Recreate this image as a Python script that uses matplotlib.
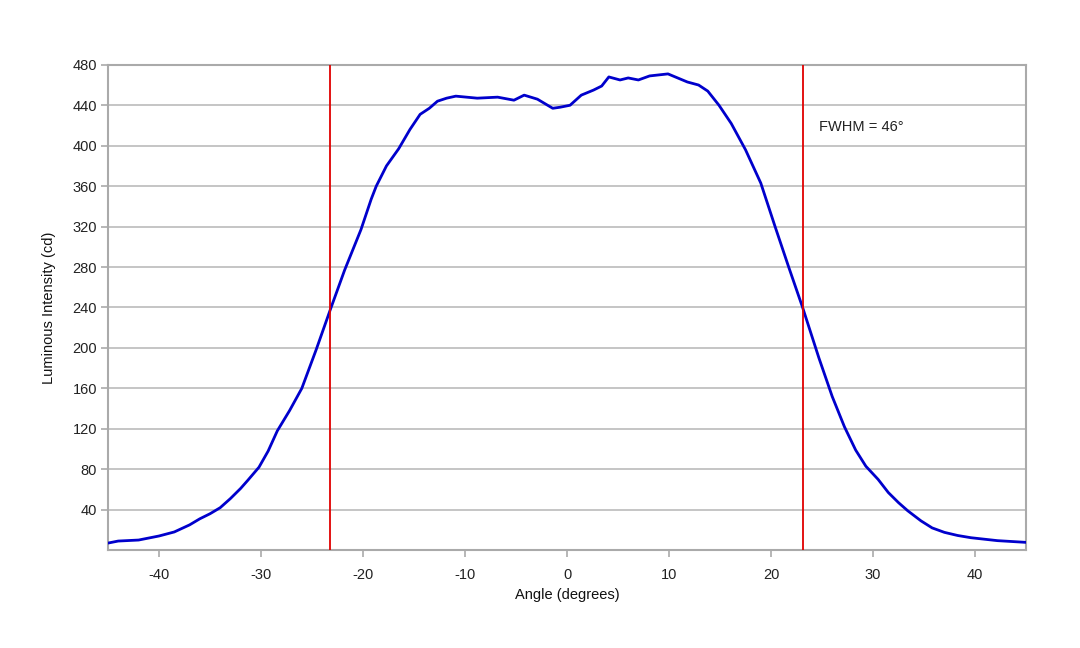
import matplotlib
matplotlib.use("Agg")
import matplotlib.pyplot as plt

# ==============================
# DATA
# ==============================

angle = [-45, -44, -42, -40, -38.5, -37, -36, -35, -34, -33, -32, -31.3, -30.2,
         -29.3, -28.4, -27.2, -26.0, -24.6, -23.2, -21.8, -20.2, -19.2, -18.7,
         -17.7, -16.5, -15.4, -14.4, -13.5, -12.7, -11.8, -10.9, -8.8, -6.8,
         -5.2, -4.2, -2.9, -1.4, -0.7, 0.3, 1.4, 2.6, 3.4, 4.1, 5.2, 6.0, 7.0,
         8.1, 9.9, 11.8, 12.9, 13.8, 14.9, 16.1, 17.5, 19.0, 20.4, 21.7, 23.1,
         24.7, 26.0, 27.2, 28.3, 29.3, 30.5, 31.5, 32.5, 33.4, 34.7, 35.8,
         37.0, 38.3, 39.6, 42.2, 45]
intensity = [7, 9, 10, 14, 18, 25, 31, 36, 42, 51, 61, 69, 82,
             98, 118, 138, 160, 198, 238, 277, 317, 347, 360,
             380, 397, 416, 431, 437, 444, 447, 449, 447, 448,
             445, 450, 446, 437, 438, 440, 450, 455, 459, 468, 465, 467, 465,
             469, 471, 463, 460, 454, 440, 422, 396, 363, 320, 281, 240,
             190, 152, 122, 99, 83, 70, 57, 47, 39, 29, 22,
             17.6, 14.5, 12.3, 9.4, 7.7]

fwhm_edges = [-23.2, 23.1]
fwhm_text = "FWHM = 46°"
y_ticks = list(range(40, 481, 40))
x_ticks = list(range(-40, 41, 10))

# ==============================
# PLOT
# ==============================

plt.rcParams["font.family"] = ["Liberation Sans", "DejaVu Sans"]
plt.rcParams["axes.unicode_minus"] = False

fig = plt.figure(figsize=(10.8, 6.48), dpi=100)
ax = fig.add_axes([0.1, 0.151, 0.85, 0.749])

ax.plot(angle, intensity, color="#0000cc", linewidth=2.0, zorder=3,
        solid_joinstyle="round", solid_capstyle="round")
for edge in fwhm_edges:
    ax.axvline(edge, color="#e00000", linewidth=1.3, zorder=4)

ax.text(24.7, 418, fwhm_text, fontsize=10.5, ha="left", va="center", color="#222222")

ax.set_xlim(-45, 45)
ax.set_ylim(0, 480)
ax.set_xticks(x_ticks)
ax.set_yticks(y_ticks)
ax.grid(axis="y", color="#bbbbbb", linewidth=1.2, zorder=0)
ax.set_axisbelow(True)

for side in ["left", "right", "top", "bottom"]:
    ax.spines[side].set_color("#aaaaaa")
    ax.spines[side].set_linewidth(1.5)

ax.tick_params(axis="both", colors="#aaaaaa", labelcolor="#222222",
               labelsize=10.5, length=5, width=1.2)
ax.tick_params(axis="x", pad=8)
ax.tick_params(axis="y", pad=3)

ax.set_xlabel("Angle (degrees)", fontsize=10.5, color="#111111", labelpad=4)
ax.set_ylabel("Luminous Intensity (cd)", fontsize=10.5, color="#111111", labelpad=12)

fig.savefig("out.png", dpi=100)
